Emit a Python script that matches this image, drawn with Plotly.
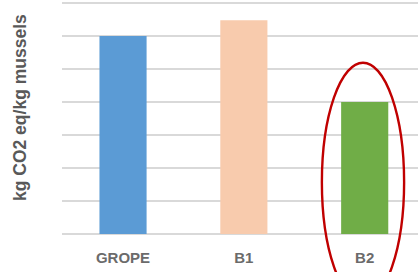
import plotly.graph_objects as go

categories = ["GROPE", "B1", "B2"]
values = [6.0, 6.48, 4.0]
colors = ["#5b9bd5", "#f8cbad", "#70ad47"]
y_title = "kg CO2 eq/kg mussels"

fig = go.Figure(go.Bar(
    x=categories, y=values, marker=dict(color=colors, line=dict(width=0)),
    width=0.39, hoverinfo="skip"))

fig.update_layout(
    width=418, height=272,
    margin=dict(l=62, r=0, t=1, b=38),
    plot_bgcolor="white", paper_bgcolor="white",
    showlegend=False,
    font=dict(family="Liberation Sans", color="#595959"),
    xaxis=dict(range=[-0.505, 2.441], showgrid=False, showline=False, ticks="",
               tickfont=dict(size=15, family="Liberation Sans", weight="bold", color="#6b6b6b"),
               ticklabelstandoff=13),
    yaxis=dict(range=[0, 7.06], dtick=1, showticklabels=False, showgrid=True,
               gridcolor="#d9d9d9", gridwidth=2, zeroline=True, zerolinecolor="#d9d9d9",
               zerolinewidth=2, showline=False, ticks=""),
    annotations=[dict(text="<b>" + y_title + "</b>", xref="paper", yref="paper",
                      x=-0.118, y=0.545, textangle=-90, showarrow=False,
                      font=dict(size=17.5, family="Liberation Sans", color="#595959"),
                      xanchor="center", yanchor="middle")],
    shapes=[dict(type="circle", xref="paper", yref="paper",
                 x0=0.730, x1=0.961, y0=-0.290, y1=0.735,
                 line=dict(color="#c00000", width=2.4))],
)

fig.write_html("out.html", config={"displayModeBar": False},
               post_script="document.body.style.margin='0';")
